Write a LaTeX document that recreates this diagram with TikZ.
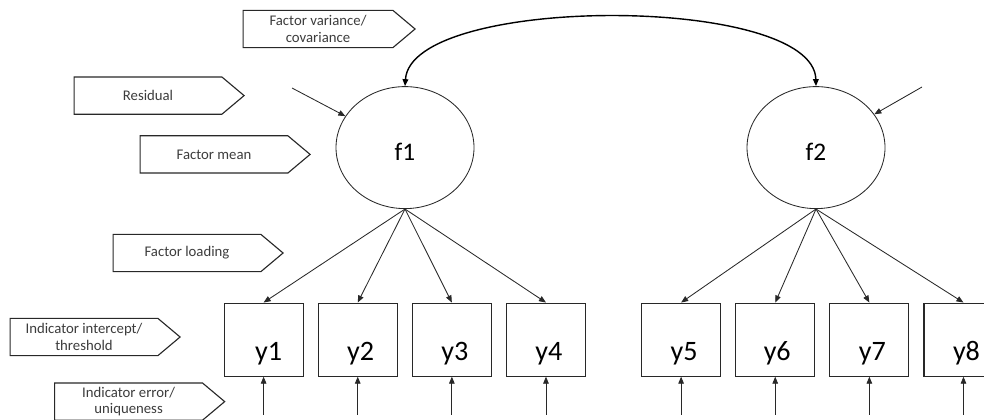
\documentclass[tikz,border=0pt]{standalone}
\usepackage{fontspec}
\setmainfont{Carlito}
\usepackage{tikz}
\usetikzlibrary{positioning, shapes.geometric, shapes.symbols, arrows.meta}
\definecolor{lineGray}{RGB}{40, 40, 40}
\definecolor{textGray}{RGB}{60, 60, 60}

\begin{document}
\begin{tikzpicture}[>={Triangle[length=5pt, width=4pt]}, line width=0.6pt, node distance=0.35cm,
    latent/.style={ellipse, draw=lineGray, minimum width=3.45cm, minimum height=3.05cm, font=\fontsize{18}{20}\selectfont, text height=19pt, text depth=0pt},
    indicator/.style={rectangle, draw=lineGray, line width=0.8pt, minimum width=1.975cm, minimum height=1.825cm, font=\fontsize{20}{22}\selectfont, text height=30pt, text depth=0pt, inner xsep=0pt},
    callout/.style={signal, signal to=east, signal pointer angle=80, draw=lineGray, line width=0.8pt, minimum width=4.25cm, minimum height=0.93cm, align=center, text=textGray, font=\fontsize{10.5}{11.5}\selectfont, inner sep=1pt}]
    \useasboundingbox (0,0) rectangle (24.6,-10.475);

    % factors
    \node[latent] (f1) at (10.125,-3.69) {f1};
    \node[latent] (f2) at (20.4,-3.69) {f2};

    % indicators
    \node[indicator] (y1) at (6.59,-8.49) {\hspace{0.25cm}y1};
    \node[indicator, right=of y1] (y2) {\hspace{0.15cm}y2};
    \node[indicator, right=of y2] (y3) {\hspace{0.15cm}y3};
    \node[indicator, right=of y3] (y4) {\hspace{0.15cm}y4};
    \node[indicator, right=1.375cm of y4] (y5) {\hspace{0.15cm}y5};
    \node[indicator, right=of y5] (y6) {\hspace{0.1cm}y6};
    \node[indicator, right=of y6] (y7) {\hspace{0.15cm}y7};
    \node[indicator, right=of y7] (y8) {\hspace{0.15cm}y8};

    % callout labels
    \node[callout, minimum width=4.3cm] (covar) at (7.95,-0.725) {Factor variance/\\covariance};
    \node[callout] (resid) at (3.7,-2.39) {Residual};
    \node[callout] (fmean) at (5.35,-3.86) {Factor mean};
    \node[callout] (floading) at (4.675,-6.325) {Factor loading};
    \node[callout] (intercept) at (2.1,-8.425) {Indicator intercept/\\threshold};
    \node[callout] (uniq) at (3.215,-10.04) {Indicator error/\\uniqueness};

    % residuals
    \coordinate (r1) at (7.3,-2.2);
    \coordinate (r2) at (23.05,-2.175);
    \draw[->, lineGray] (r1) -- (f1);
    \draw[->, lineGray] (r2) -- (f2);

    % covariance
    \draw[<->, line width=1pt] (f1.north) .. controls +(0.15,2.3) and +(-0.05,2.3) .. (f2.north);

    % loadings
    \foreach \i in {1,...,4}
        \draw[->, lineGray] (f1.south) -- (y\i.north);
    \foreach \i in {5,...,8}
        \draw[->, lineGray] (f2.south) -- (y\i.north);

    % errors
    \foreach \i in {1,...,8} {
        \coordinate[below=0.95cm of y\i.south] (e\i);
        \draw[->, lineGray] (e\i) -- (y\i.south);
    }
\end{tikzpicture}
\end{document}
